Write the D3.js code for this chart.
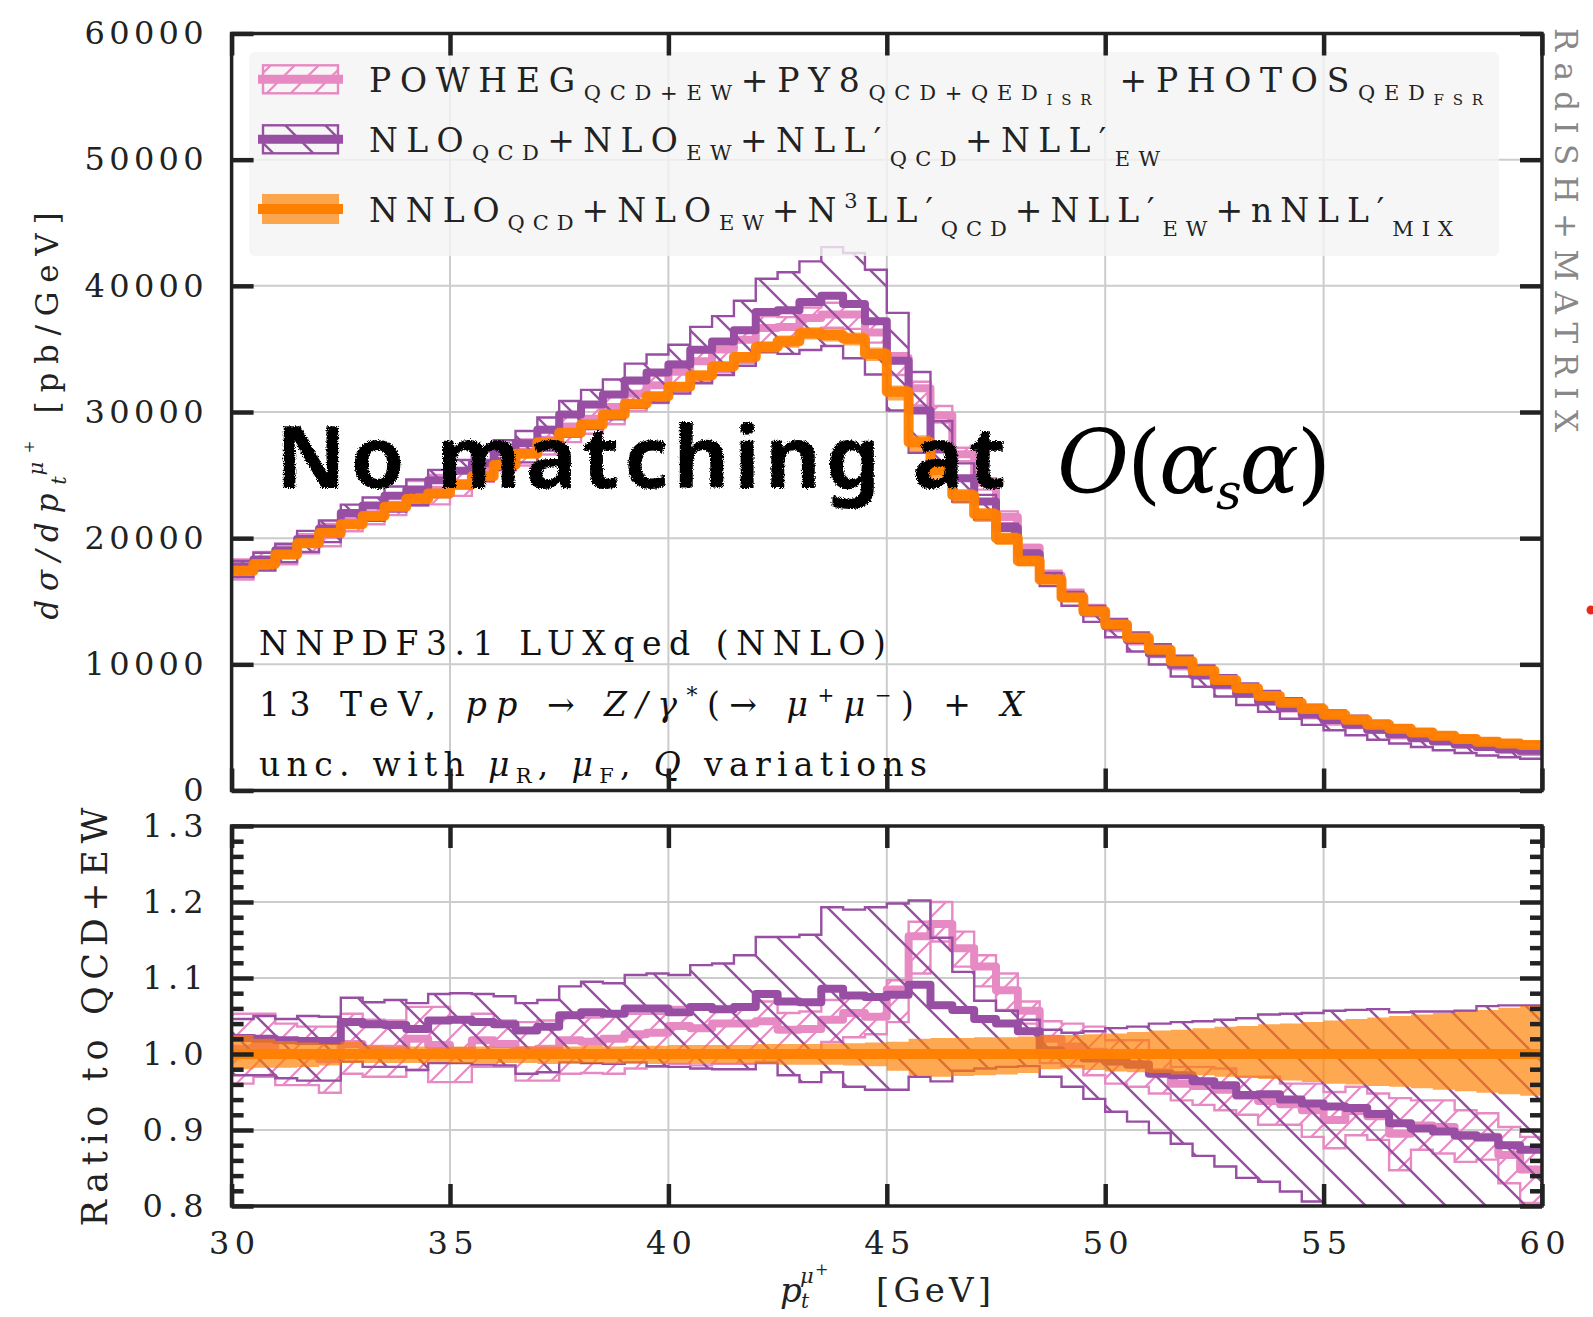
<!DOCTYPE html>
<html>
<head>
<meta charset="utf-8">
<script src="https://cdn.jsdelivr.net/npm/d3@7"></script>
<style>
  body { margin: 0; background: #fff; }
  svg { display: block; }
</style>
</head>
<body>
<svg id="chart" width="1593" height="1317"></svg>
<script>
// ---- bin edges of the p_t^{mu+} histogram [GeV] ----
const ptEdges = [30,30.5,31,31.5,32,32.5,33,33.5,34,34.5,35,35.5,36,36.5,37,37.5,38,38.5,39,39.5,
                 40,40.5,41,41.5,42,42.5,43,43.5,44,44.5,45,45.5,46,46.5,47,47.5,48,48.5,49,49.5,
                 50,50.5,51,51.5,52,52.5,53,53.5,54,54.5,55,55.5,56,56.5,57,57.5,58,58.5,59,59.5,60];

// ---- reference prediction NNLO_QCD+NLO_EW+N3LL'_QCD+NLL'_EW+nNLL'_MIX [pb/GeV] ----
const refXsec = [17400,17950,18700,19600,20400,21100,21750,22500,23100,23550,
                 24250,24900,25800,26700,27600,28350,29000,29800,30650,31250,
                 32000,32900,33600,34350,35150,35600,36250,36100,35800,34600,
                 31600,27600,25400,23400,21900,20000,18200,16700,15300,14200,
                 13150,12100,11150,10250,9500,8750,8100,7500,6950,6450,
                 6000,5600,5220,4900,4600,4330,4080,3870,3720,3600];
// scale-variation band of the reference, relative to its central value
const refHi = [1.025,1.020,1.017,1.015,1.013,1.016,1.011,1.010,1.010,1.009,
               1.010,1.010,1.009,1.010,1.010,1.010,1.011,1.010,1.011,1.011,
               1.012,1.012,1.012,1.012,1.013,1.013,1.013,1.014,1.014,1.015,
               1.016,1.020,1.021,1.021,1.022,1.022,1.023,1.025,1.025,1.026,
               1.027,1.029,1.031,1.032,1.034,1.036,1.037,1.039,1.040,1.042,
               1.044,1.046,1.048,1.050,1.052,1.054,1.056,1.058,1.061,1.063];
const refLo = [0.980,0.982,0.982,0.983,0.985,0.988,0.988,0.988,0.988,0.989,
               0.988,0.988,0.988,0.988,0.987,0.988,0.988,0.987,0.988,0.987,
               0.987,0.987,0.987,0.987,0.987,0.986,0.986,0.986,0.985,0.984,
               0.978,0.972,0.970,0.971,0.972,0.973,0.975,0.980,0.981,0.979,
               0.977,0.976,0.975,0.973,0.972,0.970,0.969,0.967,0.965,0.963,
               0.961,0.960,0.958,0.957,0.955,0.953,0.951,0.949,0.947,0.945];

// ---- NLO_QCD+NLO_EW+NLL'_QCD+NLL'_EW, ratio to the reference ----
const nllMid = [1.021,1.020,1.018,1.017,1.017,1.042,1.039,1.038,1.033,1.044,
                1.045,1.042,1.039,1.031,1.036,1.051,1.055,1.053,1.060,1.060,
                1.055,1.062,1.059,1.062,1.079,1.069,1.068,1.086,1.077,1.075,
                1.078,1.091,1.064,1.058,1.046,1.040,1.030,1.005,1.000,0.994,
                0.990,0.986,0.974,0.972,0.964,0.959,0.946,0.947,0.940,0.935,
                0.931,0.929,0.921,0.909,0.902,0.898,0.893,0.890,0.880,0.874];
const nllHi  = [1.046,1.050,1.046,1.050,1.049,1.074,1.068,1.071,1.067,1.079,
                1.080,1.079,1.076,1.067,1.071,1.089,1.095,1.093,1.104,1.106,
                1.104,1.117,1.119,1.130,1.154,1.154,1.157,1.193,1.190,1.193,
                1.198,1.202,1.153,1.108,1.070,1.057,1.045,1.032,1.028,1.030,
                1.034,1.036,1.040,1.042,1.043,1.045,1.047,1.052,1.053,1.054,
                1.057,1.058,1.059,1.055,1.056,1.056,1.057,1.063,1.064,1.064];
const nllLo  = [0.972,0.972,0.968,0.965,0.965,0.990,0.983,0.983,0.979,0.988,
                0.988,0.986,0.985,0.974,0.976,0.989,0.988,0.987,0.989,0.984,
                0.983,0.981,0.980,0.980,0.988,0.972,0.963,0.976,0.957,0.953,
                0.953,0.970,0.964,0.978,0.981,0.983,0.984,0.970,0.957,0.941,
                0.924,0.911,0.896,0.882,0.866,0.852,0.837,0.832,0.819,0.806,
                0.795,0.783,0.771,0.760,0.749,0.738,0.728,0.718,0.708,0.699];

// ---- POWHEG_QCD+EW+PY8+PHOTOS, ratio to the reference ----
const powhegMid = [1.007,1.010,1.000,0.998,0.993,1.013,1.007,1.007,1.020,1.012,
                   1.004,1.018,1.013,1.005,1.007,1.018,1.016,1.020,1.026,1.028,
                   1.037,1.034,1.040,1.040,1.043,1.032,1.033,1.045,1.054,1.049,
                   1.085,1.155,1.171,1.139,1.115,1.084,1.057,1.020,1.010,1.003,
                   0.990,0.987,0.976,0.961,0.958,0.953,0.945,0.938,0.934,0.926,
                   0.913,0.925,0.918,0.895,0.906,0.904,0.892,0.891,0.867,0.848];
const powhegHi  = [1.053,1.053,1.040,1.036,1.036,1.053,1.045,1.044,1.062,1.062,
                   1.044,1.053,1.044,1.042,1.044,1.053,1.048,1.053,1.053,1.053,
                   1.062,1.060,1.062,1.064,1.069,1.054,1.056,1.071,1.080,1.072,
                   1.097,1.174,1.200,1.161,1.130,1.106,1.069,1.043,1.040,1.036,
                   1.018,1.018,1.005,0.983,0.983,0.981,0.970,0.970,0.961,0.961,
                   0.950,0.957,0.948,0.942,0.939,0.939,0.926,0.922,0.904,0.891];
const powhegLo  = [0.961,0.970,0.959,0.959,0.949,0.974,0.970,0.970,0.979,0.963,
                   0.963,0.983,0.983,0.965,0.965,0.974,0.975,0.974,0.981,0.983,
                   0.987,0.985,0.987,0.987,0.990,0.998,1.000,1.016,1.022,1.026,
                   1.042,1.106,1.148,1.115,1.089,1.058,1.040,0.988,0.984,0.972,
                   0.961,0.957,0.948,0.939,0.933,0.926,0.920,0.907,0.907,0.891,
                   0.876,0.893,0.887,0.847,0.874,0.869,0.858,0.861,0.830,0.804];

// ---- axis ticks ----
const xTicks = [30,35,40,45,50,55,60];
const yTopTicks = [0,10000,20000,30000,40000,50000,60000];
const yBotTicks = [0.8,0.9,1.0,1.1,1.2,1.3];

// ---------------------------------------------------------------
const svg = d3.select('#chart');
const SERIF = "'DejaVu Serif', 'Liberation Serif', serif";
const C = { pink: '#e78ac3', purple: '#984ea3', orange: '#ff7f00', frame: '#222222', grid: '#cccccc' };

const X0 = 231.6, X1 = 1542;
const TOP = { y0: 33.5, y1: 790.5 }, BOT = { y0: 826, y1: 1206 };
const x = d3.scaleLinear().domain([30, 60]).range([X0, X1]);
const yTop = d3.scaleLinear().domain([0, 60000]).range([TOP.y1, TOP.y0]);
const yBot = d3.scaleLinear().domain([0.8, 1.3]).range([BOT.y1, BOT.y0]);

// ---- defs: clip regions, hatch patterns, chalk roughening ----
const defs = svg.append('defs');
defs.append('clipPath').attr('id', 'clipTop').append('rect')
  .attr('x', X0).attr('y', TOP.y0).attr('width', X1 - X0).attr('height', TOP.y1 - TOP.y0);
defs.append('clipPath').attr('id', 'clipBot').append('rect')
  .attr('x', X0).attr('y', BOT.y0).attr('width', X1 - X0).attr('height', BOT.y1 - BOT.y0);

const pBack = defs.append('pattern').attr('id', 'hatchBack')
  .attr('patternUnits', 'userSpaceOnUse').attr('width', 40).attr('height', 40);
pBack.append('path').attr('d', 'M-10,-10 L50,50 M-10,30 L10,50 M30,-10 L50,10')
  .attr('stroke', C.purple).attr('stroke-width', 2.4).attr('fill', 'none');

const pFwd = defs.append('pattern').attr('id', 'hatchFwd')
  .attr('patternUnits', 'userSpaceOnUse').attr('width', 24).attr('height', 24);
pFwd.append('path').attr('d', 'M-6,30 L30,-6 M-6,6 L6,-6 M18,30 L30,18')
  .attr('stroke', C.pink).attr('stroke-width', 2.2).attr('fill', 'none');

const chalk = defs.append('filter').attr('id', 'chalk')
  .attr('x', '-5%').attr('y', '-20%').attr('width', '110%').attr('height', '140%');
chalk.append('feTurbulence').attr('type', 'fractalNoise').attr('baseFrequency', 0.85)
  .attr('numOctaves', 2).attr('seed', 4).attr('result', 'noise');
chalk.append('feDisplacementMap').attr('in', 'SourceGraphic').attr('in2', 'noise')
  .attr('scale', 5).attr('xChannelSelector', 'R').attr('yChannelSelector', 'G');

// ---- helpers ----
function stepPoints(vals) {
  const pts = vals.map((v, i) => [ptEdges[i], v]);
  pts.push([ptEdges[ptEdges.length - 1], vals[vals.length - 1]]);
  return pts;
}
function bandPoints(lo, hi) {
  const pts = lo.map((v, i) => [ptEdges[i], v, hi[i]]);
  pts.push([ptEdges[ptEdges.length - 1], lo[lo.length - 1], hi[hi.length - 1]]);
  return pts;
}

function drawGrid(g, yS, yVals, y0, y1) {
  g.selectAll('line.gx').data(xTicks.slice(1, -1)).join('line')
    .attr('x1', d => x(d)).attr('x2', d => x(d)).attr('y1', y0).attr('y2', y1)
    .attr('stroke', C.grid).attr('stroke-width', 2);
  g.selectAll('line.gy').data(yVals).join('line')
    .attr('x1', X0).attr('x2', X1).attr('y1', d => yS(d)).attr('y2', d => yS(d))
    .attr('stroke', C.grid).attr('stroke-width', 2);
}

// central values and bands of the three predictions in one panel
function drawSeries(g, yS, conv) {
  const line = d3.line().x(d => x(d[0])).y(d => yS(d[1])).curve(d3.curveStepAfter);
  const area = d3.area().x(d => x(d[0])).y0(d => yS(d[1])).y1(d => yS(d[2])).curve(d3.curveStepAfter);

  const hatched = [
    { mid: powhegMid, lo: powhegLo, hi: powhegHi, color: C.pink, pat: 'hatchFwd' },
    { mid: nllMid,    lo: nllLo,    hi: nllHi,    color: C.purple, pat: 'hatchBack' }
  ];
  hatched.forEach(s => {
    g.append('path').datum(bandPoints(conv(s.lo), conv(s.hi))).attr('d', area)
      .attr('fill', `url(#${s.pat})`).attr('stroke', s.color).attr('stroke-width', 2.4);
    g.append('path').datum(stepPoints(conv(s.mid))).attr('d', line)
      .attr('fill', 'none').attr('stroke', s.color).attr('stroke-width', 8)
      .attr('stroke-linejoin', 'round');
  });

  const refMid = refXsec.map(v => v / v);
  g.append('path').datum(bandPoints(conv(refLo), conv(refHi))).attr('d', area)
    .attr('fill', C.orange).attr('fill-opacity', 0.68).attr('stroke', 'none');
  g.append('path').datum(stepPoints(conv(refMid))).attr('d', line)
    .attr('fill', 'none').attr('stroke', C.orange).attr('stroke-opacity', 0.95)
    .attr('stroke-width', 10).attr('stroke-linejoin', 'round');
}

// inward ticks on all four sides plus the panel frame
function drawFrame(yS, y0, y1, majors, minors) {
  const g = svg.append('g');
  const tickStyle = sel => {
    sel.select('.domain').remove();
    sel.selectAll('.tick line').attr('stroke', C.frame).attr('stroke-width', 4.5);
  };
  g.append('g').attr('transform', `translate(0,${y1})`)
    .call(d3.axisBottom(x).tickValues(xTicks).tickSize(-22).tickFormat('')).call(tickStyle);
  g.append('g').attr('transform', `translate(0,${y0})`)
    .call(d3.axisTop(x).tickValues(xTicks).tickSize(-22).tickFormat('')).call(tickStyle);
  g.append('g').attr('transform', `translate(${X0},0)`)
    .call(d3.axisLeft(yS).tickValues(majors).tickSize(-22).tickFormat('')).call(tickStyle);
  g.append('g').attr('transform', `translate(${X1},0)`)
    .call(d3.axisRight(yS).tickValues(majors).tickSize(-22).tickFormat('')).call(tickStyle);
  if (minors) {
    g.append('g').attr('transform', `translate(${X0},0)`)
      .call(d3.axisLeft(yS).tickValues(minors).tickSize(-12).tickFormat('')).call(tickStyle);
    g.append('g').attr('transform', `translate(${X1},0)`)
      .call(d3.axisRight(yS).tickValues(minors).tickSize(-12).tickFormat('')).call(tickStyle);
  }
  g.append('rect').attr('x', X0).attr('y', y0).attr('width', X1 - X0).attr('height', y1 - y0)
    .attr('fill', 'none').attr('stroke', C.frame).attr('stroke-width', 3.5);
}

function richText(sel, segs, base) {
  let prev = 0;
  segs.forEach(s => {
    const off = s.off || 0;
    const t = sel.append('tspan').text(s.t).attr('font-size', s.size || base).attr('dy', off - prev);
    if (s.it) t.attr('font-style', 'italic');
    if (s.dx) t.attr('dx', s.dx);
    prev = off;
  });
}

// ================= upper panel =================
const gTop = svg.append('g');
drawGrid(gTop, yTop, yTopTicks.slice(1, -1), TOP.y0, TOP.y1);
const gTopData = svg.append('g').attr('clip-path', 'url(#clipTop)');
drawSeries(gTopData, yTop, r => r.map((v, i) => v * refXsec[i]));

// legend
const leg = svg.append('g');
leg.append('rect').attr('x', 249).attr('y', 52).attr('width', 1250).attr('height', 204).attr('rx', 6)
  .attr('fill', '#f4f4f4').attr('fill-opacity', 0.8);
const SUB = 21, SUBSUB = 15;
const legendRows = [
  { cy: 79.3, base: 91.7, len: 1114, kind: 'pink',
    segs: [{t:'POWHEG'},{t:'QCD+EW',size:SUB,off:8.5},{t:'+PY8'},{t:'QCD+QED',size:SUB,off:8.5},
           {t:'ISR',size:SUBSUB,off:13},{t:' +PHOTOS'},{t:'QED',size:SUB,off:8.5},{t:'FSR',size:SUBSUB,off:13}] },
  { cy: 139.3, base: 151.7, len: 791, kind: 'purple',
    segs: [{t:'NLO'},{t:'QCD',size:SUB,off:8.5},{t:'+NLO'},{t:'EW',size:SUB,off:8.5},
           {t:'+NLL′'},{t:'QCD',size:SUB,off:14},{t:'+NLL′'},{t:'EW',size:SUB,off:14}] },
  { cy: 209, base: 221.7, len: 1084, kind: 'orange',
    segs: [{t:'NNLO'},{t:'QCD',size:SUB,off:8.5},{t:'+NLO'},{t:'EW',size:SUB,off:8.5},
           {t:'+N'},{t:'3',size:SUB,off:-14},{t:'LL′'},{t:'QCD',size:SUB,off:14},
           {t:'+NLL′'},{t:'EW',size:SUB,off:14},{t:'+nNLL′'},{t:'MIX',size:SUB,off:14}] }
];
legendRows.forEach(r => {
  if (r.kind === 'orange') {
    leg.append('rect').attr('x', 262).attr('y', r.cy - 15).attr('width', 77).attr('height', 30)
      .attr('fill', C.orange).attr('fill-opacity', 0.68);
    leg.append('line').attr('x1', 258).attr('x2', 343).attr('y1', r.cy).attr('y2', r.cy)
      .attr('stroke', C.orange).attr('stroke-width', 10);
  } else {
    const col = r.kind === 'pink' ? C.pink : C.purple;
    leg.append('rect').attr('x', 263).attr('y', r.cy - 14).attr('width', 75).attr('height', 28)
      .attr('fill', r.kind === 'pink' ? 'url(#hatchFwd)' : 'url(#hatchBack)')
      .attr('stroke', col).attr('stroke-width', 2.4);
    leg.append('line').attr('x1', 258).attr('x2', 343).attr('y1', r.cy).attr('y2', r.cy)
      .attr('stroke', col).attr('stroke-width', 9);
  }
  const t = leg.append('text').attr('x', 369).attr('y', r.base)
    .attr('font-family', SERIF).attr('fill', '#222')
    .attr('textLength', r.len).attr('lengthAdjust', 'spacing');
  richText(t, r.segs, 33);
});

// process information
const info = svg.append('g').attr('font-family', SERIF).attr('fill', '#111');
richText(info.append('text').attr('x', 259).attr('y', 655).attr('textLength', 627).attr('lengthAdjust', 'spacing'),
  [{t:'NNPDF3.1 LUXqed (NNLO)'}], 33);
richText(info.append('text').attr('x', 259).attr('y', 716).attr('textLength', 765).attr('lengthAdjust', 'spacing'),
  [{t:'13 TeV, '},{t:'pp',it:true},{t:' → '},{t:'Z/γ',it:true},{t:'*',size:22,off:-13},
   {t:'(→ '},{t:'μ',it:true},{t:'+',size:20,off:-14},{t:'μ',it:true},{t:'−',size:20,off:-14},
   {t:') + '},{t:'X',it:true}], 33);
richText(info.append('text').attr('x', 259).attr('y', 776).attr('textLength', 668).attr('lengthAdjust', 'spacing'),
  [{t:'unc. with '},{t:'μ',it:true},{t:'R',size:21,off:7},{t:', '},{t:'μ',it:true},
   {t:'F',size:21,off:7},{t:', '},{t:'Q',it:true},{t:' variations'}], 33);

// annotation
svg.append('text').attr('x', 276).attr('y', 488)
  .attr('font-family', "'Noto Sans', 'DejaVu Sans', sans-serif").attr('font-weight', 700)
  .attr('font-size', 86).attr('fill', '#000').attr('filter', 'url(#chalk)')
  .attr('textLength', 730).attr('lengthAdjust', 'spacing')
  .text('No matching at');
richText(svg.append('text').attr('x', 1057).attr('y', 493).attr('font-family', SERIF)
    .attr('fill', '#000').attr('textLength', 274).attr('lengthAdjust', 'spacing'),
  [{t:'O',it:true},{t:'('},{t:'α',it:true},{t:'s',it:true,size:50,off:16},{t:'α',it:true},{t:')'}], 88);

drawFrame(yTop, TOP.y0, TOP.y1, yTopTicks, null);

// tick labels
const labStyle = (sel, len) => {
  sel.select('.domain').remove();
  sel.selectAll('.tick line').remove();
  sel.selectAll('text').attr('font-family', SERIF).attr('font-size', 32).attr('fill', '#222');
  if (len) sel.selectAll('text').each(function () {
    const n = this.textContent.length;
    if (len[n]) d3.select(this).attr('textLength', len[n]).attr('lengthAdjust', 'spacing');
  });
};
svg.append('g').attr('transform', `translate(${X0},0)`)
  .call(d3.axisLeft(yTop).tickValues(yTopTicks).tickSize(0).tickPadding(28).tickFormat(d3.format('d')))
  .call(s => labStyle(s, { 5: 119 }));

// ================= lower panel =================
const gBot = svg.append('g');
drawGrid(gBot, yBot, [0.9, 1.0, 1.1, 1.2], BOT.y0, BOT.y1);
const gBotData = svg.append('g').attr('clip-path', 'url(#clipBot)');
drawSeries(gBotData, yBot, r => r);

const minorBot = d3.range(0.8, 1.3001, 0.02).filter(v => Math.abs(v * 10 - Math.round(v * 10)) > 1e-6);
drawFrame(yBot, BOT.y0, BOT.y1, yBotTicks, minorBot);

svg.append('g').attr('transform', `translate(${X0},0)`)
  .call(d3.axisLeft(yBot).tickValues(yBotTicks).tickSize(0).tickPadding(28).tickFormat(d3.format('.1f')))
  .call(s => labStyle(s, { 3: 61 }));
svg.append('g').attr('transform', `translate(0,${BOT.y1})`)
  .call(d3.axisBottom(x).tickValues(xTicks).tickSize(0).tickPadding(25).tickFormat(d3.format('d')))
  .call(s => labStyle(s, { 2: 46 }));

// ================= axis titles =================
const yt = svg.append('text').attr('transform', 'translate(58,416) rotate(-90)')
  .attr('text-anchor', 'middle').attr('font-family', SERIF).attr('fill', '#222')
  .attr('textLength', 407).attr('lengthAdjust', 'spacing');
richText(yt, [{t:'dσ/dp',it:true},{t:'t',it:true,size:21,off:8},{t:'μ',it:true,size:21,off:-15,dx:-8},
              {t:'+',size:15,off:-24},{t:'  [pb/GeV]'}], 31);

svg.append('text').attr('transform', 'translate(107,1017) rotate(-90)')
  .attr('text-anchor', 'middle').attr('font-family', SERIF).attr('font-size', 35).attr('fill', '#222')
  .attr('textLength', 419).attr('lengthAdjust', 'spacing').text('Ratio to QCD+EW');

const xt = svg.append('g').attr('font-family', SERIF).attr('fill', '#222');
xt.append('text').attr('x', 780).attr('y', 1302).attr('font-size', 34).attr('font-style', 'italic').text('p');
xt.append('text').attr('x', 801).attr('y', 1308).attr('font-size', 20).attr('font-style', 'italic').text('t');
xt.append('text').attr('x', 800).attr('y', 1283).attr('font-size', 21).attr('font-style', 'italic').text('μ');
xt.append('text').attr('x', 815).attr('y', 1275).attr('font-size', 16).text('+');
xt.append('text').attr('x', 876).attr('y', 1302).attr('font-size', 34)
  .attr('textLength', 115).attr('lengthAdjust', 'spacing').text('[GeV]');

// generator tag on the right edge
svg.append('text').attr('transform', 'translate(1555,230) rotate(90)')
  .attr('text-anchor', 'middle').attr('font-family', SERIF).attr('font-size', 31).attr('fill', '#888')
  .attr('textLength', 404).attr('lengthAdjust', 'spacing').text('RadISH+MATRIX');

svg.append('circle').attr('cx', 1591).attr('cy', 610).attr('r', 4.5).attr('fill', '#e8291c');
</script>
</body>
</html>
